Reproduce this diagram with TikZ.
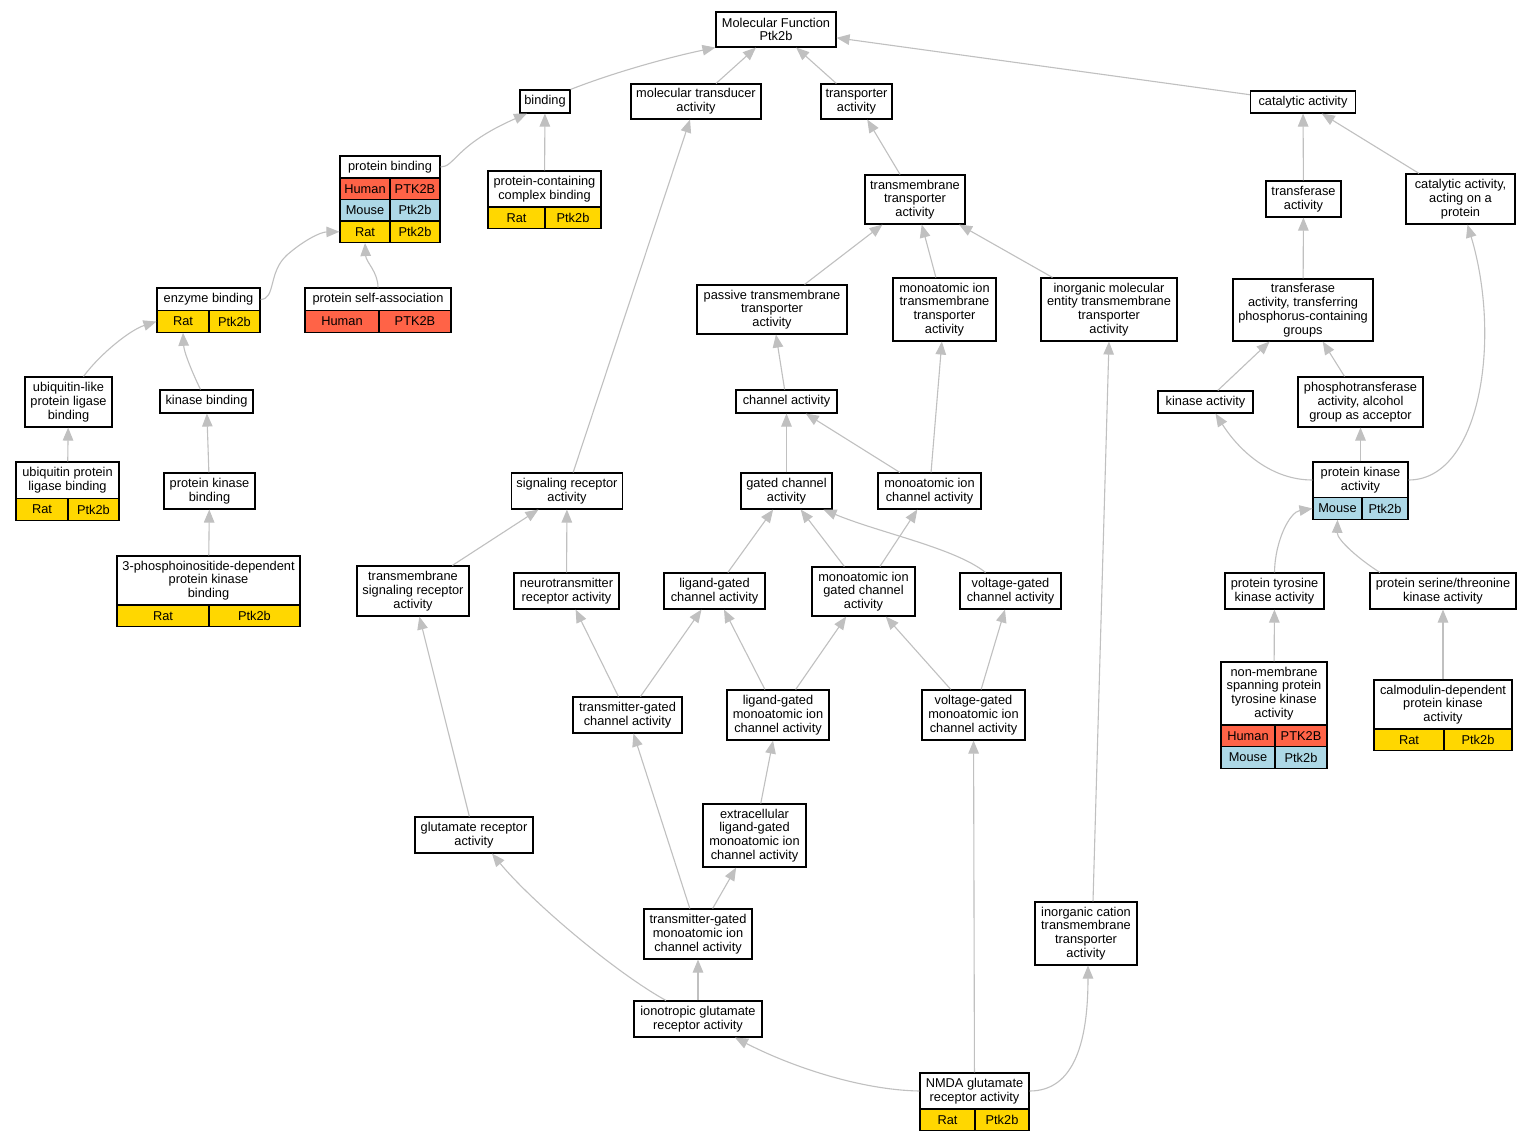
\documentclass[tikz,border=0pt]{standalone}
\usepackage{fontspec}
\setmainfont{Liberation Sans}
\usetikzlibrary{arrows.meta}
\definecolor{human}{HTML}{FF6347}
\definecolor{mouse}{HTML}{ADD8E6}
\definecolor{rat}{HTML}{FFD700}
\definecolor{edgegray}{HTML}{C0C0C0}

\begin{document}
\begin{tikzpicture}[x=1pt,y=-1pt]
\tikzstyle{every node}+=[inner sep=0pt]
\tikzstyle{term}=[draw=black, line width=1.1pt, fill=white, align=center, font=\fontsize{12.8}{13.8}\selectfont]
\tikzstyle{cell}=[term, minimum height=21.5]
\tikzstyle{isa}=[draw=edgegray, line width=1.1pt, -{Triangle[length=13pt,width=10.5pt]}]
\path [use as bounding box, fill=white] (0,0) rectangle (1532,1141);
% terms
\node [term, minimum width=120, minimum height=35] (mf) at (776,29.5) {Molecular Function\\Ptk2b};
\node [term, minimum width=50, minimum height=23] (bind) at (545,101.5) {binding};
\node [term, minimum width=130, minimum height=35] (mta) at (696,101.5) {molecular transducer\\activity};
\node [term, minimum width=71, minimum height=35] (tra) at (856.5,101.5) {transporter\\activity};
\node [term, minimum width=105, minimum height=22] (cat) at (1303,102) {catalytic activity};
\node [term, minimum width=100, minimum height=22] (pbt) at (390,167) {protein binding};
\node [cell, fill=human, minimum width=50] (pbh1) at (365,188.75) {Human};
\node [cell, fill=human, minimum width=50] (pbh2) at (415,188.75) {PTK2B};
\node [cell, fill=mouse, minimum width=50] (pbm1) at (365,210.25) {Mouse};
\node [cell, fill=mouse, minimum width=50] (pbm2) at (415,210.25) {Ptk2b};
\node [cell, fill=rat, minimum width=50] (pbr1) at (365,231.75) {Rat};
\node [cell, fill=rat, minimum width=50] (pbr2) at (415,231.75) {Ptk2b};
\node [term, minimum width=113, minimum height=36] (pccbt) at (544.5,189) {protein-containing\\complex binding};
\node [cell, fill=rat, minimum width=57] (pccbr1) at (516.5,217.75) {Rat};
\node [cell, fill=rat, minimum width=56] (pccbr2) at (573,217.75) {Ptk2b};
\node [term, minimum width=100, minimum height=49] (tt) at (915,199.5) {transmembrane\\transporter\\activity};
\node [term, minimum width=75, minimum height=36] (trf) at (1303.5,199) {transferase\\activity};
\node [term, minimum width=109, minimum height=50] (cap) at (1460.5,199) {catalytic activity,\\acting on a\\protein};
\node [term, minimum width=103, minimum height=23] (ebt) at (208.5,299.5) {enzyme binding};
\node [cell, fill=rat, minimum width=52] (ebr1) at (183,321.5) {Rat};
\node [cell, fill=rat, minimum width=51] (ebr2) at (234.5,321.5) {Ptk2b};
\node [term, minimum width=146, minimum height=23] (psat) at (378,299.5) {protein self-association};
\node [cell, fill=human, minimum width=74] (psah1) at (342,321.5) {Human};
\node [cell, fill=human, minimum width=72] (psah2) at (415,321.5) {PTK2B};
\node [term, minimum width=150, minimum height=49] (ptta) at (772,309.5) {passive transmembrane\\transporter\\activity};
\node [term, minimum width=103, minimum height=63] (mitt) at (944.5,309.5) {monoatomic ion\\transmembrane\\transporter\\activity};
\node [term, minimum width=136, minimum height=63] (imett) at (1109,309.5) {inorganic molecular\\entity transmembrane\\transporter\\activity};
\node [term, minimum width=140, minimum height=62] (tpcg) at (1303,310) {transferase\\activity, transferring\\phosphorus-containing\\groups};
\node [term, minimum width=87, minimum height=50] (ulplb) at (68.5,402) {ubiquitin-like\\protein ligase\\binding};
\node [term, minimum width=93, minimum height=23] (kb) at (206.5,401.5) {kinase binding};
\node [term, minimum width=101, minimum height=23] (cha) at (786.5,401.5) {channel activity};
\node [term, minimum width=95, minimum height=22] (ka) at (1205.5,402) {kinase activity};
\node [term, minimum width=125, minimum height=50] (pta) at (1360.5,402) {phosphotransferase\\activity, alcohol\\group as acceptor};
\node [term, minimum width=103, minimum height=37] (uplbt) at (67.5,480.5) {ubiquitin protein\\ligase binding};
\node [cell, fill=rat, minimum width=52] (uplbr1) at (42,509.5) {Rat};
\node [cell, fill=rat, minimum width=51] (uplbr2) at (93.5,509.5) {Ptk2b};
\node [term, minimum width=91, minimum height=36] (pkb) at (209.5,491) {protein kinase\\binding};
\node [term, minimum width=111, minimum height=36] (sra) at (567,491) {signaling receptor\\activity};
\node [term, minimum width=91, minimum height=36] (gca) at (786.5,491) {gated channel\\activity};
\node [term, minimum width=103, minimum height=36] (mica) at (929.5,491) {monoatomic ion\\channel activity};
\node [term, minimum width=95, minimum height=36] (pkat) at (1360.5,480) {protein kinase\\activity};
\node [cell, fill=mouse, minimum width=49] (pkm1) at (1337.5,508.5) {Mouse};
\node [cell, fill=mouse, minimum width=46] (pkm2) at (1385,508.5) {Ptk2b};
\node [term, minimum width=183, minimum height=49] (pdkt) at (208.5,580.5) {3-phosphoinositide-dependent\\protein kinase\\binding};
\node [cell, fill=rat, minimum width=92] (pdkr1) at (163,616) {Rat};
\node [cell, fill=rat, minimum width=91] (pdkr2) at (254.5,616) {Ptk2b};
\node [term, minimum width=112, minimum height=50] (tsra) at (413,591) {transmembrane\\signaling receptor\\activity};
\node [term, minimum width=105, minimum height=36] (nra) at (566.5,591) {neurotransmitter\\receptor activity};
\node [term, minimum width=101, minimum height=36] (lgca) at (714.5,591) {ligand-gated\\channel activity};
\node [term, minimum width=103, minimum height=49] (migca) at (863.5,591.5) {monoatomic ion\\gated channel\\activity};
\node [term, minimum width=101, minimum height=36] (vgca) at (1010.5,591) {voltage-gated\\channel activity};
\node [term, minimum width=99, minimum height=36] (ptka) at (1274.5,591) {protein tyrosine\\kinase activity};
\node [term, minimum width=146, minimum height=36] (psta) at (1443,591) {protein serine/threonine\\kinase activity};
\node [term, minimum width=109, minimum height=36] (tgca) at (627.5,715) {transmitter-gated\\channel activity};
\node [term, minimum width=102, minimum height=50] (lgmica) at (778,715) {ligand-gated\\monoatomic ion\\channel activity};
\node [term, minimum width=103, minimum height=50] (vgmica) at (973.5,715) {voltage-gated\\monoatomic ion\\channel activity};
\node [term, minimum width=106, minimum height=63] (nmst) at (1274,693.5) {non-membrane\\spanning protein\\tyrosine kinase\\activity};
\node [cell, fill=human, minimum width=54] (nmsh1) at (1248,736) {Human};
\node [cell, fill=human, minimum width=52] (nmsh2) at (1301,736) {PTK2B};
\node [cell, fill=mouse, minimum width=54] (nmsm1) at (1248,757.5) {Mouse};
\node [cell, fill=mouse, minimum width=52] (nmsm2) at (1301,757.5) {Ptk2b};
\node [term, minimum width=138, minimum height=49] (cdpkt) at (1443,704.5) {calmodulin-dependent\\protein kinase\\activity};
\node [cell, fill=rat, minimum width=70] (cdpkr1) at (1409,740) {Rat};
\node [cell, fill=rat, minimum width=68] (cdpkr2) at (1478,740) {Ptk2b};
\node [term, minimum width=118, minimum height=36] (gra) at (474,835) {glutamate receptor\\activity};
\node [term, minimum width=103, minimum height=63] (elgmica) at (754.5,835.5) {extracellular\\ligand-gated\\monoatomic ion\\channel activity};
\node [term, minimum width=108, minimum height=50] (tgmica) at (698,934) {transmitter-gated\\monoatomic ion\\channel activity};
\node [term, minimum width=102, minimum height=63] (icta) at (1086,933.5) {inorganic cation\\transmembrane\\transporter\\activity};
\node [term, minimum width=128, minimum height=36] (igra) at (698,1019) {ionotropic glutamate\\receptor activity};
\node [term, minimum width=109, minimum height=36] (nmdat) at (974.5,1091) {NMDA glutamate\\receptor activity};
\node [cell, fill=rat, minimum width=55] (nmdar1) at (947.5,1120) {Rat};
\node [cell, fill=rat, minimum width=54] (nmdar2) at (1002,1120) {Ptk2b};
% is_a links
\draw [isa] (bind.north east) .. controls (615,72) and (670,57) .. (mf.south west);
\draw [isa] (mta) -- (mf);
\draw [isa] (tra) -- (mf);
\draw [isa] (cat) -- (mf);
\draw [isa] (pbt.east) .. controls (455,167) and (455,145) .. ([xshift=-18]bind.south);
\draw [isa] (pccbt) -- (bind);
\draw [isa] (tt) -- (tra);
\draw [isa] (trf) -- (cat);
\draw [isa] (cap) -- (cat);
\draw [isa] (ebt.east) .. controls (276,299) and (268,272) .. (287,255) .. controls (303,241) and (320,232) .. (pbr1.west);
\draw [isa] (psat.north) .. controls (378,272) and (366,262) .. (pbr1.south);
\draw [isa] (ptta) -- (tt);
\draw [isa] (mitt) -- (tt);
\draw [isa] (imett) -- (tt);
\draw [isa] (tpcg) -- (trf);
\draw [isa] ([xshift=15]ulplb.north) .. controls (100,354) and (130,330) .. (ebr1.west);
\draw [isa] ([xshift=-6]kb.north) .. controls (192,372) and (184,352) .. (ebr1.south);
\draw [isa] (cha) -- (ptta);
\draw [isa] (ka) -- (tpcg);
\draw [isa] (pta) -- (tpcg);
\draw [isa] (uplbt) -- (ulplb);
\draw [isa] (pkb) -- (kb);
\draw [isa] (sra) -- (mta);
\draw [isa] (gca) -- (cha);
\draw [isa] (mica) -- (cha);
\draw [isa] (mica) -- (mitt);
\draw [isa] (pkat.west) .. controls (1272,480) and (1240,452) .. ([xshift=10]ka.south);
\draw [isa] (pkat) -- (pta);
\draw [isa] (pkat.east) .. controls (1480,480) and (1502,340) .. ([xshift=7]cap.south);
\draw [isa] (pdkt) -- (pkb);
\draw [isa] (tsra) -- (sra);
\draw [isa] (nra) -- (sra);
\draw [isa] (lgca) -- (gca);
\draw [isa] (migca) -- (gca);
\draw [isa] (migca) -- (mica);
\draw [isa] ([xshift=-25]vgca.north) .. controls (955,548) and (880,533) .. ([xshift=37]gca.south);
\draw [isa] (ptka.north) .. controls (1275,540) and (1290,512) .. (pkm1.west);
\draw [isa] ([xshift=-63]psta.north) .. controls (1360,560) and (1337,540) .. (pkm1.south);
\draw [isa] (tgca) -- (nra);
\draw [isa] (tgca) -- (lgca);
\draw [isa] (lgmica) -- (lgca);
\draw [isa] (lgmica) -- (migca);
\draw [isa] (vgmica) -- (migca);
\draw [isa] (vgmica) -- (vgca);
\draw [isa] (nmst) -- (ptka);
\draw [isa] (cdpkt) -- (psta);
\draw [isa] (gra) -- (tsra);
\draw [isa] (elgmica) -- (lgmica);
\draw [isa] (tgmica) -- (tgca);
\draw [isa] (tgmica) -- (elgmica);
\draw [isa] ([xshift=-32]igra.north) .. controls (616,973) and (532,902) .. ([xshift=18]gra.south);
\draw [isa] (igra) -- (tgmica);
\draw [isa] (nmdat.west) .. controls (860,1090) and (790,1066) .. ([xshift=37]igra.south);
\draw [isa] (nmdat) -- (vgmica);
\draw [isa] (nmdat.east) .. controls (1075,1091) and (1088,1040) .. ([xshift=2]icta.south);
\draw [isa] ([xshift=7]icta.north) -- (imett.south);
\end{tikzpicture}
\end{document}
